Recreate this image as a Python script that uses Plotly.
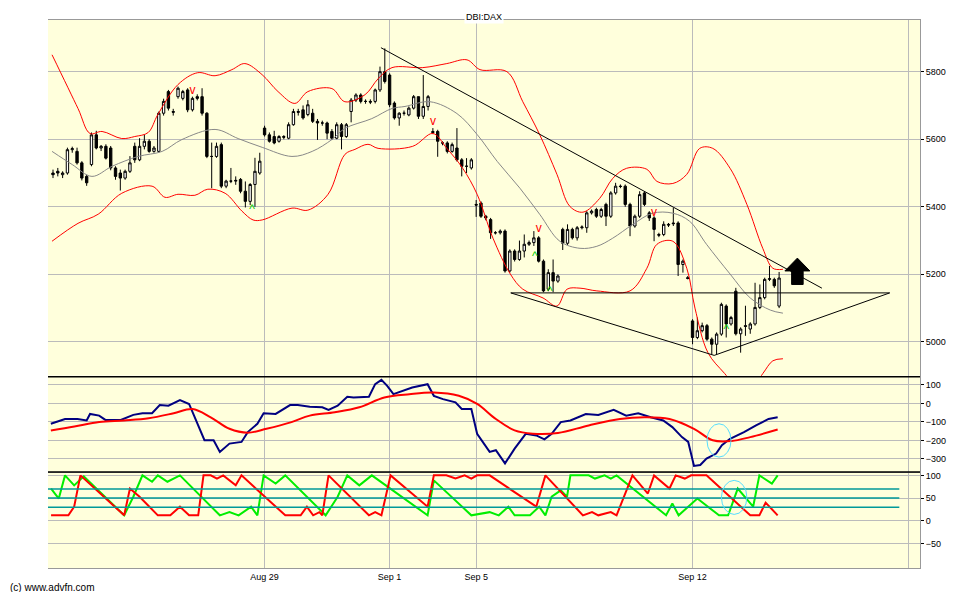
import plotly.graph_objects as go

# hourly candles, index 0..151
opens = [5500,5505,5495,5500,5569,5564,5530,5490,5525,5613,5574,5579,5574,5515,5500,5485,5505,5579,5539,5579,
         5594,5564,5564,5677,5741,5682,5726,5721,5746,5687,5726,5726,5677,5549,5549,5584,5461,5476,5476,5481,
         5446,5416,5466,5500,5633,5613,5608,5594,5608,5603,5643,5682,5687,5673,5677,5653,5648,5648,5623,5603,
         5643,5608,5682,5716,5731,5712,5712,5712,5746,5800,5790,5707,5663,5677,5672,5692,5726,5668,5697,5623,
         5623,5589,5589,5564,5574,5539,5520,5515,5407,5411,5372,5362,5323,5323,5328,5210,5269,5244,5269,5289,
         5294,5308,5239,5156,5205,5180,5333,5292,5333,5308,5338,5338,5382,5392,5372,5407,5372,5441,5461,5461,
         5407,5343,5372,5441,5382,5367,5318,5318,5348,5352,5352,5229,5190,5062,5013,5033,5048,5008,4993,5023,
         5106,5053,5150,5024,5048,5038,5053,5102,5131,5185,5185,5106]
highs = [5510,5515,5505,5575,5578,5575,5535,5495,5620,5625,5583,5585,5580,5520,5510,5510,5550,5590,5603,5613,
         5600,5580,5682,5720,5746,5690,5756,5746,5751,5726,5733,5751,5680,5590,5590,5590,5480,5515,5490,5485,
         5475,5470,5545,5560,5640,5620,5625,5612,5612,5650,5690,5690,5700,5716,5690,5660,5655,5652,5630,5650,
         5648,5648,5722,5736,5736,5718,5718,5750,5815,5869,5795,5712,5680,5685,5697,5731,5726,5790,5731,5633,
         5628,5594,5594,5590,5633,5544,5544,5544,5420,5416,5376,5367,5328,5333,5333,5274,5274,5300,5318,5300,
         5328,5313,5244,5215,5244,5200,5338,5348,5338,5343,5345,5387,5392,5397,5397,5412,5446,5471,5466,5466,
         5412,5377,5446,5446,5387,5372,5323,5357,5352,5397,5357,5244,5195,5067,5072,5057,5053,5013,5028,5116,
         5111,5077,5160,5043,5107,5058,5175,5170,5190,5225,5190,5207]
lows = [5485,5490,5485,5495,5560,5525,5478,5462,5520,5570,5565,5540,5508,5480,5448,5480,5500,5530,5535,5570,
        5560,5560,5560,5670,5685,5670,5720,5715,5680,5682,5715,5670,5544,5455,5545,5455,5455,5470,5465,5440,
        5398,5405,5400,5495,5608,5590,5585,5590,5600,5600,5640,5670,5658,5668,5648,5598,5640,5600,5598,5600,
        5570,5604,5650,5710,5706,5705,5704,5706,5740,5765,5695,5658,5640,5670,5668,5688,5660,5660,5685,5615,
        5548,5582,5558,5560,5534,5490,5500,5510,5370,5367,5360,5305,5318,5318,5205,5205,5238,5240,5250,5284,
        5284,5235,5147,5150,5147,5175,5272,5287,5303,5300,5333,5323,5377,5367,5367,5343,5367,5436,5455,5400,
        5313,5338,5367,5402,5358,5298,5310,5313,5340,5343,5195,5205,5185,4993,5008,5028,5003,4963,4963,5018,
        5013,5048,5019,4968,5018,5024,5048,5097,5126,5180,5160,5100]
closes = [5495,5500,5500,5569,5572,5530,5485,5471,5613,5574,5579,5544,5515,5490,5485,5505,5530,5539,5579,5594,
          5564,5574,5677,5712,5692,5680,5751,5741,5687,5721,5721,5677,5549,5549,5579,5461,5476,5476,5478,5446,
          5416,5466,5505,5535,5613,5594,5589,5608,5606,5643,5682,5680,5663,5702,5653,5648,5648,5618,5603,5643,
          5608,5643,5716,5731,5712,5712,5710,5746,5800,5771,5702,5663,5677,5677,5692,5726,5668,5697,5726,5620,
          5594,5589,5564,5584,5539,5520,5520,5539,5405,5372,5367,5323,5323,5328,5210,5269,5244,5269,5289,5294,
          5308,5239,5151,5205,5180,5195,5292,5333,5308,5338,5340,5382,5387,5372,5392,5372,5441,5461,5460,5407,
          5343,5372,5436,5407,5367,5333,5316,5348,5346,5350,5229,5239,5188,5013,5033,5048,5008,4993,5023,5111,
          5053,5072,5024,5038,5046,5053,5102,5131,5185,5187,5166,5189]
candle_x = list(range(len(closes)))

tick_vals = [44, 70, 88, 133, 178]
tick_text = ["Aug 29", "Sep 1", "Sep 5", "Sep 12", ""]

# bollinger bands / moving average
upper_x = [-0.2,5.2,7.7,10.2,14.3,17.0,19.8,21.8,26.0,30.1,33.7,37.2,39.9,43.5,46.8,50.3,53.0,58.0,60.7,64.9,67.6,70.5,
           76.9,81.9,86.1,88.8,94.4,97.7,101.2,104.8,107.5,110.2,113.7,116.4,119.3,123.5,125.6,128.9,131.8,134.5,137.2,
           140.8,144.3,147.6,149.7,151.8]
upper_y = [5850,5691,5617,5623,5602,5608,5620,5673,5762,5797,5788,5806,5824,5791,5741,5706,5741,5750,5711,5732,5779,5812,
           5812,5824,5835,5806,5800,5711,5614,5496,5401,5384,5425,5484,5514,5511,5475,5469,5496,5573,5573,
           5514,5407,5277,5218,5215]
lower_x = [-0.2,5.2,9.4,14.3,20.6,23.3,26.0,29.5,32.2,35.8,39.3,41.6,43.5,49.7,53.0,57.2,60.7,62.8,65.5,67.6,74.8,79.0,
           81.9,85.2,88.2,91.5,95.1,97.7,101.9,104.8,106.9,109.6,113.1,120.0,123.5,125.6,128.9,131.8,133.5,136.2,139.7,
           144.0,147.6,149.7,151.8]
lower_y = [5298,5351,5378,5440,5461,5428,5437,5434,5452,5440,5387,5361,5361,5396,5390,5437,5555,5570,5585,5573,5579,5617,
           5573,5514,5437,5307,5201,5156,5130,5106,5156,5159,5151,5151,5218,5289,5298,5218,5100,4968,4906,
           4840,4906,4944,4950]
mid_x = [-0.2,4.0,8.1,12.3,17.7,22.7,26.8,33.7,38.5,43.5,49.7,53.9,58.0,60.7,66.3,70.5,73.2,78.4,84.0,88.2,92.4,97.1,
         101.2,105.4,109.6,113.1,116.4,120.6,124.7,128.9,132.4,135.9,140.8,145.0,149.2,151.8]
mid_y = [5564,5525,5490,5520,5549,5564,5599,5629,5602,5576,5549,5564,5599,5632,5661,5691,5697,5711,5676,5614,5534,5455,
         5378,5298,5277,5283,5307,5348,5381,5381,5357,5289,5201,5130,5094,5085]

# trend lines
trend_x = [68.2, 159.9]
trend_y = [5871, 5159]
support_x = [95.2, 174]
support_y = [5145, 5145]
wedge_x = [95.2, 137.5, 174]
wedge_y = [5145, 4960, 5145]

sell_x = [29, 79, 101, 125]
sell_y = [5744, 5652, 5334, 5381]
buy_x = [41.4, 100.2, 103.3, 140]
buy_y = [5390, 5251, 5148, 5035]

# CCI panel
cci_x = [-0.45,2.5,5.1,7.0,7.7,9.6,10.9,14.1,16.7,18.6,20.6,22.2,24.0,26.4,28.3,31.5,33.4,34.7,36.7,39.2,40.5,42.5,43.8,
         46.3,49.3,50.9,53.4,56.0,57.3,59.2,61.2,62.5,65.7,67.0,68.3,69.5,70.8,74.7,77.9,79.2,81.1,83.7,85.0,87.0,88.2,
         90.8,92.1,94.0,96.0,98.3,100.5,102.2,103.7,105.6,107.6,110.8,113.4,115.3,116.6,119.2,121.7,124.3,126.9,128.8,
         130.8,132.1,133.3,134.6,135.9,137.9,139.1,140.8,143.7,146.2,148.8,150.7]
cci_y = [-110,-84,-84,-92,-57,-66,-89,-89,-62,-53,-53,-9,-12,18,-3,-199,-199,-262,-217,-208,-155,-110,-53,
         -57,-9,-9,-18,-21,-35,-12,36,32,36,104,127,95,50,86,104,41,23,6,-30,-30,-164,
         -262,-253,-324,-244,-164,-173,-194,-164,-101,-92,-57,-62,-48,-35,-66,-53,-75,-92,-128,
         -182,-208,-338,-333,-298,-271,-226,-191,-155,-119,-84,-75]
cci_avg_x = [-0.45,4.45,9.6,14.8,19.9,25.1,29.0,32.8,36.7,40.5,44.4,49.6,53.4,58.6,63.7,68.9,74.1,79.2,84.4,88.2,92.1,
             96.0,99.8,105.0,111.4,117.9,123.0,128.2,133.3,137.2,141.1,145.0,150.7]
cci_avg_y = [-146,-125,-101,-92,-80,-53,-30,-75,-137,-158,-137,-101,-66,-48,-21,32,50,59,41,-3,-84,
             -146,-164,-160,-119,-84,-75,-84,-137,-199,-203,-182,-141]

# aroon panel
up_x = [-0.4,1.2,2.5,4.4,6.4,14.8,16.7,18.6,20.6,21.8,23.8,26.4,34.7,36.7,38.6,41.2,42.5,43.8,46.3,48.3,56.7,59.2,61.2,
        63.7,66.3,77.9,79.2,87.0,90.8,92.7,94.7,96.0,99.2,101.1,102.4,103.7,105.6,106.9,107.6,111.4,112.7,114.7,116.0,
        117.2,127.5,128.8,130.1,134.0,138.5,140.4,142.4,145.6,146.9,149.5,150.7]
up_y = [71,49,100,78,98,12,53,100,86,100,86,100,12,19,12,31,12,100,82,100,12,53,100,
        78,100,12,89,12,19,12,31,12,12,31,12,53,67,53,100,100,93,100,93,
        100,12,38,12,49,12,12,71,31,100,82,100]
down_x = [-0.4,3.2,4.4,5.7,14.8,16.0,18.0,21.8,24.4,26.4,28.3,30.2,31.3,32.8,34.1,35.4,38.0,39.2,48.3,51.5,52.8,54.1,
          55.4,56.0,57.3,65.7,67.0,68.3,70.2,77.9,79.2,81.8,83.7,85.6,87.0,88.2,90.8,100.5,102.4,110.2,112.1,113.4,
          116.0,117.2,120.5,123.7,125.0,128.2,129.5,131.4,132.7,135.9,145.0,146.9,148.2,150.7]
down_y = [12,12,31,100,12,71,53,12,12,31,12,12,100,100,93,100,78,100,12,12,31,12,
          19,12,100,12,19,12,100,31,100,100,93,100,93,100,100,31,100,12,19,12,
          19,12,100,60,100,71,100,93,100,100,12,12,40,12]

fig = go.Figure()
fig.add_trace(go.Scatter(x=upper_x, y=upper_y, mode="lines", line=dict(color="#ff0000", width=1, shape="spline")))
fig.add_trace(go.Scatter(x=lower_x, y=lower_y, mode="lines", line=dict(color="#ff0000", width=1, shape="spline")))
fig.add_trace(go.Scatter(x=mid_x, y=mid_y, mode="lines", line=dict(color="#888888", width=1, shape="spline")))
fig.add_trace(go.Candlestick(x=candle_x, open=opens, high=highs, low=lows, close=closes, whiskerwidth=0,
                             increasing=dict(line=dict(color="black", width=1), fillcolor="white"),
                             decreasing=dict(line=dict(color="black", width=1), fillcolor="black")))
for tx, ty in [(trend_x, trend_y), (support_x, support_y), (wedge_x, wedge_y)]:
    fig.add_trace(go.Scatter(x=tx, y=ty, mode="lines", line=dict(color="black", width=1)))
fig.add_trace(go.Scatter(x=sell_x, y=sell_y, mode="text", text=["v"] * len(sell_x),
                         textfont=dict(color="#ff0000", size=12, family="Liberation Sans")))
fig.add_trace(go.Scatter(x=buy_x, y=buy_y, mode="text", text=["^"] * len(buy_x),
                         textfont=dict(color="#00cc00", size=12, family="Liberation Sans")))

fig.add_trace(go.Scatter(x=cci_x, y=cci_y, xaxis="x2", yaxis="y2", mode="lines", line=dict(color="#000080", width=2)))
fig.add_trace(go.Scatter(x=cci_avg_x, y=cci_avg_y, xaxis="x2", yaxis="y2", mode="lines",
                         line=dict(color="#ff0000", width=2, shape="spline")))
fig.add_trace(go.Scatter(x=up_x, y=up_y, xaxis="x3", yaxis="y3", mode="lines", line=dict(color="#00ee00", width=2)))
fig.add_trace(go.Scatter(x=down_x, y=down_y, xaxis="x3", yaxis="y3", mode="lines", line=dict(color="#ff0000", width=2)))

# block arrow
ax, atop, ahead, abot = 154.8, 5248, 5210, 5170
arrow = (f"M {ax} {atop} L {ax+2.6} {ahead} L {ax+1.2} {ahead} L {ax+1.2} {abot} "
         f"L {ax-1.2} {abot} L {ax-1.2} {ahead} L {ax-2.6} {ahead} Z")
shapes = [dict(type="path", path=arrow, xref="x", yref="y", fillcolor="black", line=dict(color="black", width=1))]
for lvl in [70, 50, 30]:
    shapes.append(dict(type="line", xref="x3", yref="y3", x0=-1.04, x1=176, y0=lvl, y1=lvl,
                       line=dict(color="#009999", width=1.5)))
shapes += [
    dict(type="circle", xref="x2", yref="y2", x0=136, x1=141, y0=-290, y1=-110, line=dict(color="#55ddff", width=1)),
    dict(type="circle", xref="x3", yref="y3", x0=139, x1=144.3, y0=14, y1=89, line=dict(color="#55ddff", width=1)),
]
for yp in [0.349, 0.175]:
    shapes.append(dict(type="line", xref="paper", yref="paper", x0=0, x1=1, y0=yp, y1=yp,
                       line=dict(color="black", width=1.5)))
fig.update_layout(shapes=shapes)

xcommon = dict(range=[-1.04, 180.3], tickvals=tick_vals, showgrid=True, gridcolor="#bbbbbb", zeroline=False,
               showline=True, linecolor="#999999", mirror=True, ticks="")
ycommon = dict(side="right", showgrid=True, gridcolor="#bbbbbb", zeroline=False, ticks="outside", ticklen=3,
               tickcolor="black", showline=True, linecolor="#999999", tickfont=dict(size=9, color="black"))
fig.update_layout(
    width=956, height=584, margin=dict(l=40, r=44, t=10, b=24),
    paper_bgcolor="white", plot_bgcolor="#ffffdc", showlegend=False,
    font=dict(family="Liberation Sans", size=9, color="black"),
    xaxis=dict(**xcommon, anchor="y", showticklabels=False, rangeslider=dict(visible=False)),
    xaxis2=dict(**xcommon, anchor="y2", matches="x", showticklabels=False),
    xaxis3=dict(**xcommon, anchor="y3", matches="x", ticktext=tick_text, tickfont=dict(size=9)),
    yaxis=dict(**ycommon, domain=[0.351, 1], range=[4900, 5953], tickvals=[5000, 5200, 5400, 5600, 5800]),
    yaxis2=dict(**ycommon, domain=[0.175, 0.349], range=[-371, 144], tickvals=[100, 0, -100, -200, -300]),
    yaxis3=dict(**ycommon, domain=[0, 0.174], range=[-104, 106], tickvals=[100, 50, 0, -50]),
    annotations=[
        dict(text="DBI:DAX", xref="paper", yref="paper", x=0.5, y=1, yshift=10, yanchor="top", showarrow=False,
             font=dict(size=9), bgcolor="white"),
        dict(text="(c) www.advfn.com", xref="paper", yref="paper", x=0, y=0, yanchor="top", xanchor="left",
             xshift=-40, yshift=-12, showarrow=False, font=dict(size=10)),
    ],
)
fig.write_html("out.html")
